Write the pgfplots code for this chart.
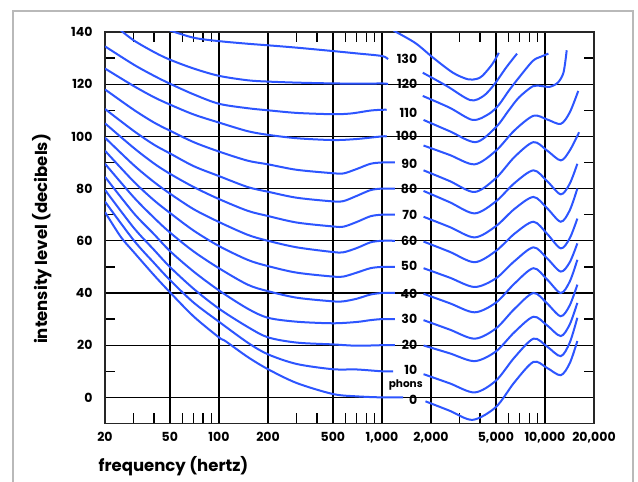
\documentclass[border=0pt]{standalone}
\usepackage{fontspec}
\setmainfont{Poppins}
\usepackage{pgfplots}
\pgfplotsset{compat=1.18}
\definecolor{lineblue}{RGB}{45,85,255}
\definecolor{framegray}{RGB}{185,185,185}
\tikzset{curve/.style={draw=lineblue, line width=2bp, smooth, mark=none}}
\newcommand{\lab}{\fontsize{12.5bp}{12.5bp}\selectfont\bfseries}
\begin{document}
\begin{tikzpicture}
\useasboundingbox (0bp,0bp) rectangle (638bp,482bp);
\fill[white] (0bp,0bp) rectangle (638bp,482bp);
\draw[framegray, line width=2.2bp] (13bp,-5bp) -- (13bp,471bp) -- (633bp,471bp) -- (633bp,-5bp);
\node[font=\fontsize{16.5bp}{16.5bp}\selectfont\bfseries] at (173.5bp,16bp) {frequency (hertz)};
\node[font=\fontsize{16.5bp}{16.5bp}\selectfont\bfseries, rotate=90] at (42.5bp,243bp) {intensity level (decibels)};
\begin{axis}[
 at={(105bp,58.5bp)}, anchor=south west, scale only axis, width=489bp, height=391.5bp,
 xmode=log, xmin=20, xmax=20000, ymin=-10, ymax=140,
 xtick={20,50,100,200,500,1000,2000,5000,10000,20000},
 xticklabels={20,50,100,200,500,{1,000},{2,000},{5,000},{10,000},{20,000}},
 minor xtick={30,40,60,70,80,90,300,400,600,700,800,900,3000,4000,6000,7000,8000,9000},
 ytick={0,20,...,140},
 minor ytick={10,30,...,130},
 major tick length=0pt, minor tick length=10bp,
 tick align=inside, tick pos=both, xticklabel pos=bottom, yticklabel pos=left,
 xmajorgrids, ymajorgrids,
 major grid style={black, line width=1.35bp},
 minor tick style={black, line width=1.3bp},
 axis line style={black!85, line width=1.7bp},
 tick label style={font=\lab},
 xticklabel style={yshift=-5bp},
 yticklabel style={xshift=-9bp},
 /pgf/number format/assume math mode=true,
]
% left parts (below 1 kHz)
\addplot[curve] coordinates {(20,71) (25,61.5) (30,55.7) (40,46.8) (50,40.3) (70,31) (100,23) (110,21.5) (150,15.5) (200,10.8) (300,5.5) (500,1.3) (700,0.4) (1000,0) (1350,0)};
\addplot[curve] coordinates {(20,75) (30,60.2) (40,51.5) (50,45) (70,36.3) (100,29) (150,21) (200,16.5) (300,12.8) (500,10.8) (700,10.7) (1000,10) (1170,10)};
\addplot[curve] coordinates {(20,79.5) (30,65) (40,56.5) (50,50) (70,41.6) (100,34) (150,27) (200,23) (300,21) (500,20.3) (700,19.8) (1000,20) (1200,20)};
\addplot[curve] coordinates {(20,84.5) (30,70.6) (40,62.5) (50,56.1) (70,48.2) (100,41) (150,34) (200,30.5) (300,29) (500,28.4) (700,28.9) (850,29.6) (1000,30) (1200,30)};
\addplot[curve] coordinates {(20,89.5) (30,76.7) (40,68.8) (50,63.2) (70,55.9) (100,49.5) (150,43.2) (200,40.7) (300,38.2) (500,36.8) (580,36.8) (700,37.8) (850,39.4) (1000,40) (1200,40)};
\addplot[curve] coordinates {(20,94.5) (30,82.7) (40,75.5) (50,70.7) (70,63.9) (100,58) (150,52.7) (200,50.3) (300,47.8) (500,46.3) (580,46.3) (700,47.8) (850,49.5) (1000,50) (1200,50)};
\addplot[curve] coordinates {(20,99.5) (30,89) (40,82.5) (50,78.1) (70,72.1) (100,67.2) (150,62.3) (200,60) (300,57.5) (500,55.7) (580,55.6) (700,57.2) (850,59.4) (1000,60) (1200,60)};
\addplot[curve] coordinates {(20,105) (30,95.6) (40,89.6) (50,85.7) (70,80.6) (100,76) (150,71.5) (200,69.5) (300,67) (500,65.5) (580,65.4) (700,67.2) (850,69.4) (1000,70) (1200,70)};
\addplot[curve] coordinates {(20,110.5) (30,102.1) (40,96.8) (50,93.5) (70,88.6) (100,84.8) (150,80.6) (200,78.8) (300,76.5) (500,75.1) (580,75.2) (700,77.2) (850,79.4) (1000,80) (1200,80)};
\addplot[curve] coordinates {(20,118) (30,110.2) (40,105.3) (50,102.2) (70,97.8) (100,94.2) (150,90.7) (200,89.3) (300,87.2) (500,85.9) (580,85.8) (700,87.5) (850,89.5) (1000,90) (1200,90)};
\addplot[curve] coordinates {(20,126) (30,119.3) (40,115) (50,112.2) (70,108.4) (100,105.3) (150,102) (200,100.6) (300,99.3) (500,98.6) (700,99) (1000,100) (1070,100)};
\addplot[curve] coordinates {(20,134.5) (30,127.5) (40,123.2) (50,120.2) (70,116.1) (100,112.5) (150,110.8) (200,110) (300,109) (500,108.5) (650,108.8) (850,109.9) (1000,110.2) (1070,110.2)};
\addplot[curve] coordinates {(24,141.5) (30,136.8) (40,132.3) (50,129.4) (70,126) (100,123.2) (150,121.5) (200,121) (300,120.6) (500,120.3) (800,120.2) (1000,120.3) (1090,120.1)};
\addplot[curve] coordinates {(50,140.6) (70,137.8) (100,136.5) (150,135.5) (200,134.9) (300,134) (500,132.7) (700,131.8) (1000,130.8) (1090,129.6)};
% right parts (above 1.8 kHz)
\addplot[curve] coordinates {(1850,-1.5) (2600,-5.1) (3600,-8.6) (5000,-3.7) (6500,5.8) (8500,13.6) (10300,11.3) (12500,8.5) (14200,13.1) (15800,21.6)};
\addplot[curve] coordinates {(1800,8.9) (2600,5.4) (3700,1.9) (5000,6.4) (6500,15.3) (8500,22.5) (10300,19.5) (12500,15.8) (14200,21) (15800,30.5)};
\addplot[curve] coordinates {(1800,19.9) (2600,16.9) (3700,13.9) (5000,17.6) (6500,25) (8500,30.9) (10300,27.6) (12500,23.5) (14200,28) (15800,36.2)};
\addplot[curve] coordinates {(1800,29.6) (2600,26) (3700,22.5) (5000,26.4) (6500,33.9) (8500,40) (10300,36) (12500,31.1) (14200,35.3) (15800,43.2)};
\addplot[curve] coordinates {(1800,39.7) (2600,36.1) (3700,32.6) (5000,36.3) (6500,43.6) (8500,49.5) (10300,45.2) (12500,40) (14200,44.4) (15800,52.7)};
\addplot[curve] coordinates {(1800,49.5) (2600,45.9) (3700,42.3) (5000,45.6) (6500,52.2) (8500,57.5) (10300,53.3) (12500,48.2) (14200,51.8) (15800,59)};
\addplot[curve] coordinates {(1800,59.7) (2600,55.8) (3700,51.8) (5000,56.1) (6500,62.7) (8500,67.3) (10300,62.7) (12500,57.1) (14200,61) (15800,68.5)};
\addplot[curve] coordinates {(1800,69.2) (2600,65.3) (3700,61.3) (5000,65.6) (6500,72.2) (8500,76.8) (10300,72.5) (12500,67.3) (14200,71.7) (15800,80)};
\addplot[curve] coordinates {(1800,79.1) (2600,74.8) (3700,70.5) (5000,75.1) (6500,82.1) (8500,87) (10300,82.9) (12500,77.8) (14200,81.9) (15800,89.5)};
\addplot[curve] coordinates {(1800,87) (2600,82.9) (3700,78.7) (5000,84) (6500,92.1) (8500,97.8) (10300,94.6) (12500,90.8) (14200,94.6) (16200,101.6)};
\addplot[curve] coordinates {(1800,96.5) (2600,92.9) (3700,89.3) (5000,94.5) (6500,102.3) (8500,107.9) (10300,106.5) (12500,104.8) (14200,109.2) (16000,117.4)};
\addplot[curve] coordinates {(1800,106.3) (2600,102) (3760,97.8) (5000,103.5) (6000,110) (6920,114.9) (8420,119.2) (9500,119.3) (10700,119) (12000,120.6) (13000,124.5) (13600,133)};
\addplot[curve] coordinates {(1780,115.5) (2600,111) (3600,106.3) (4500,108.5) (5200,112) (6000,117.5) (6920,122.5) (8420,128.9) (9500,130.6) (10500,131.7)};
\addplot[curve] coordinates {(1780,124.4) (2500,119.3) (3484,113.9) (4200,115.5) (4900,120) (5800,126.5) (6740,131.7)};
\addplot[curve] coordinates {(1180,140.5) (1600,135.8) (2064,130.1) (2726,124.4) (3356,121.9) (3800,122) (4131,123.2) (4743,127.6) (5211,132)};
% phon labels
\foreach \v/\yy in {130/129.6,120/120,110/109,100/100.2,90/89.5,80/79.8,70/70,60/60,50/50.3,40/39.8,30/30,20/20.2,10/10.6,0/-0.8} {
 \edef\tmp{\noexpand\node[anchor=east, inner sep=0pt, font=\noexpand\lab] at (axis cs:1650,\yy) {\v};}
 \tmp
}
\node[inner sep=0pt, font=\fontsize{10.5bp}{10.5bp}\selectfont\bfseries] at (axis cs:1400,4.8) {phons};
\end{axis}
\end{tikzpicture}
\end{document}
